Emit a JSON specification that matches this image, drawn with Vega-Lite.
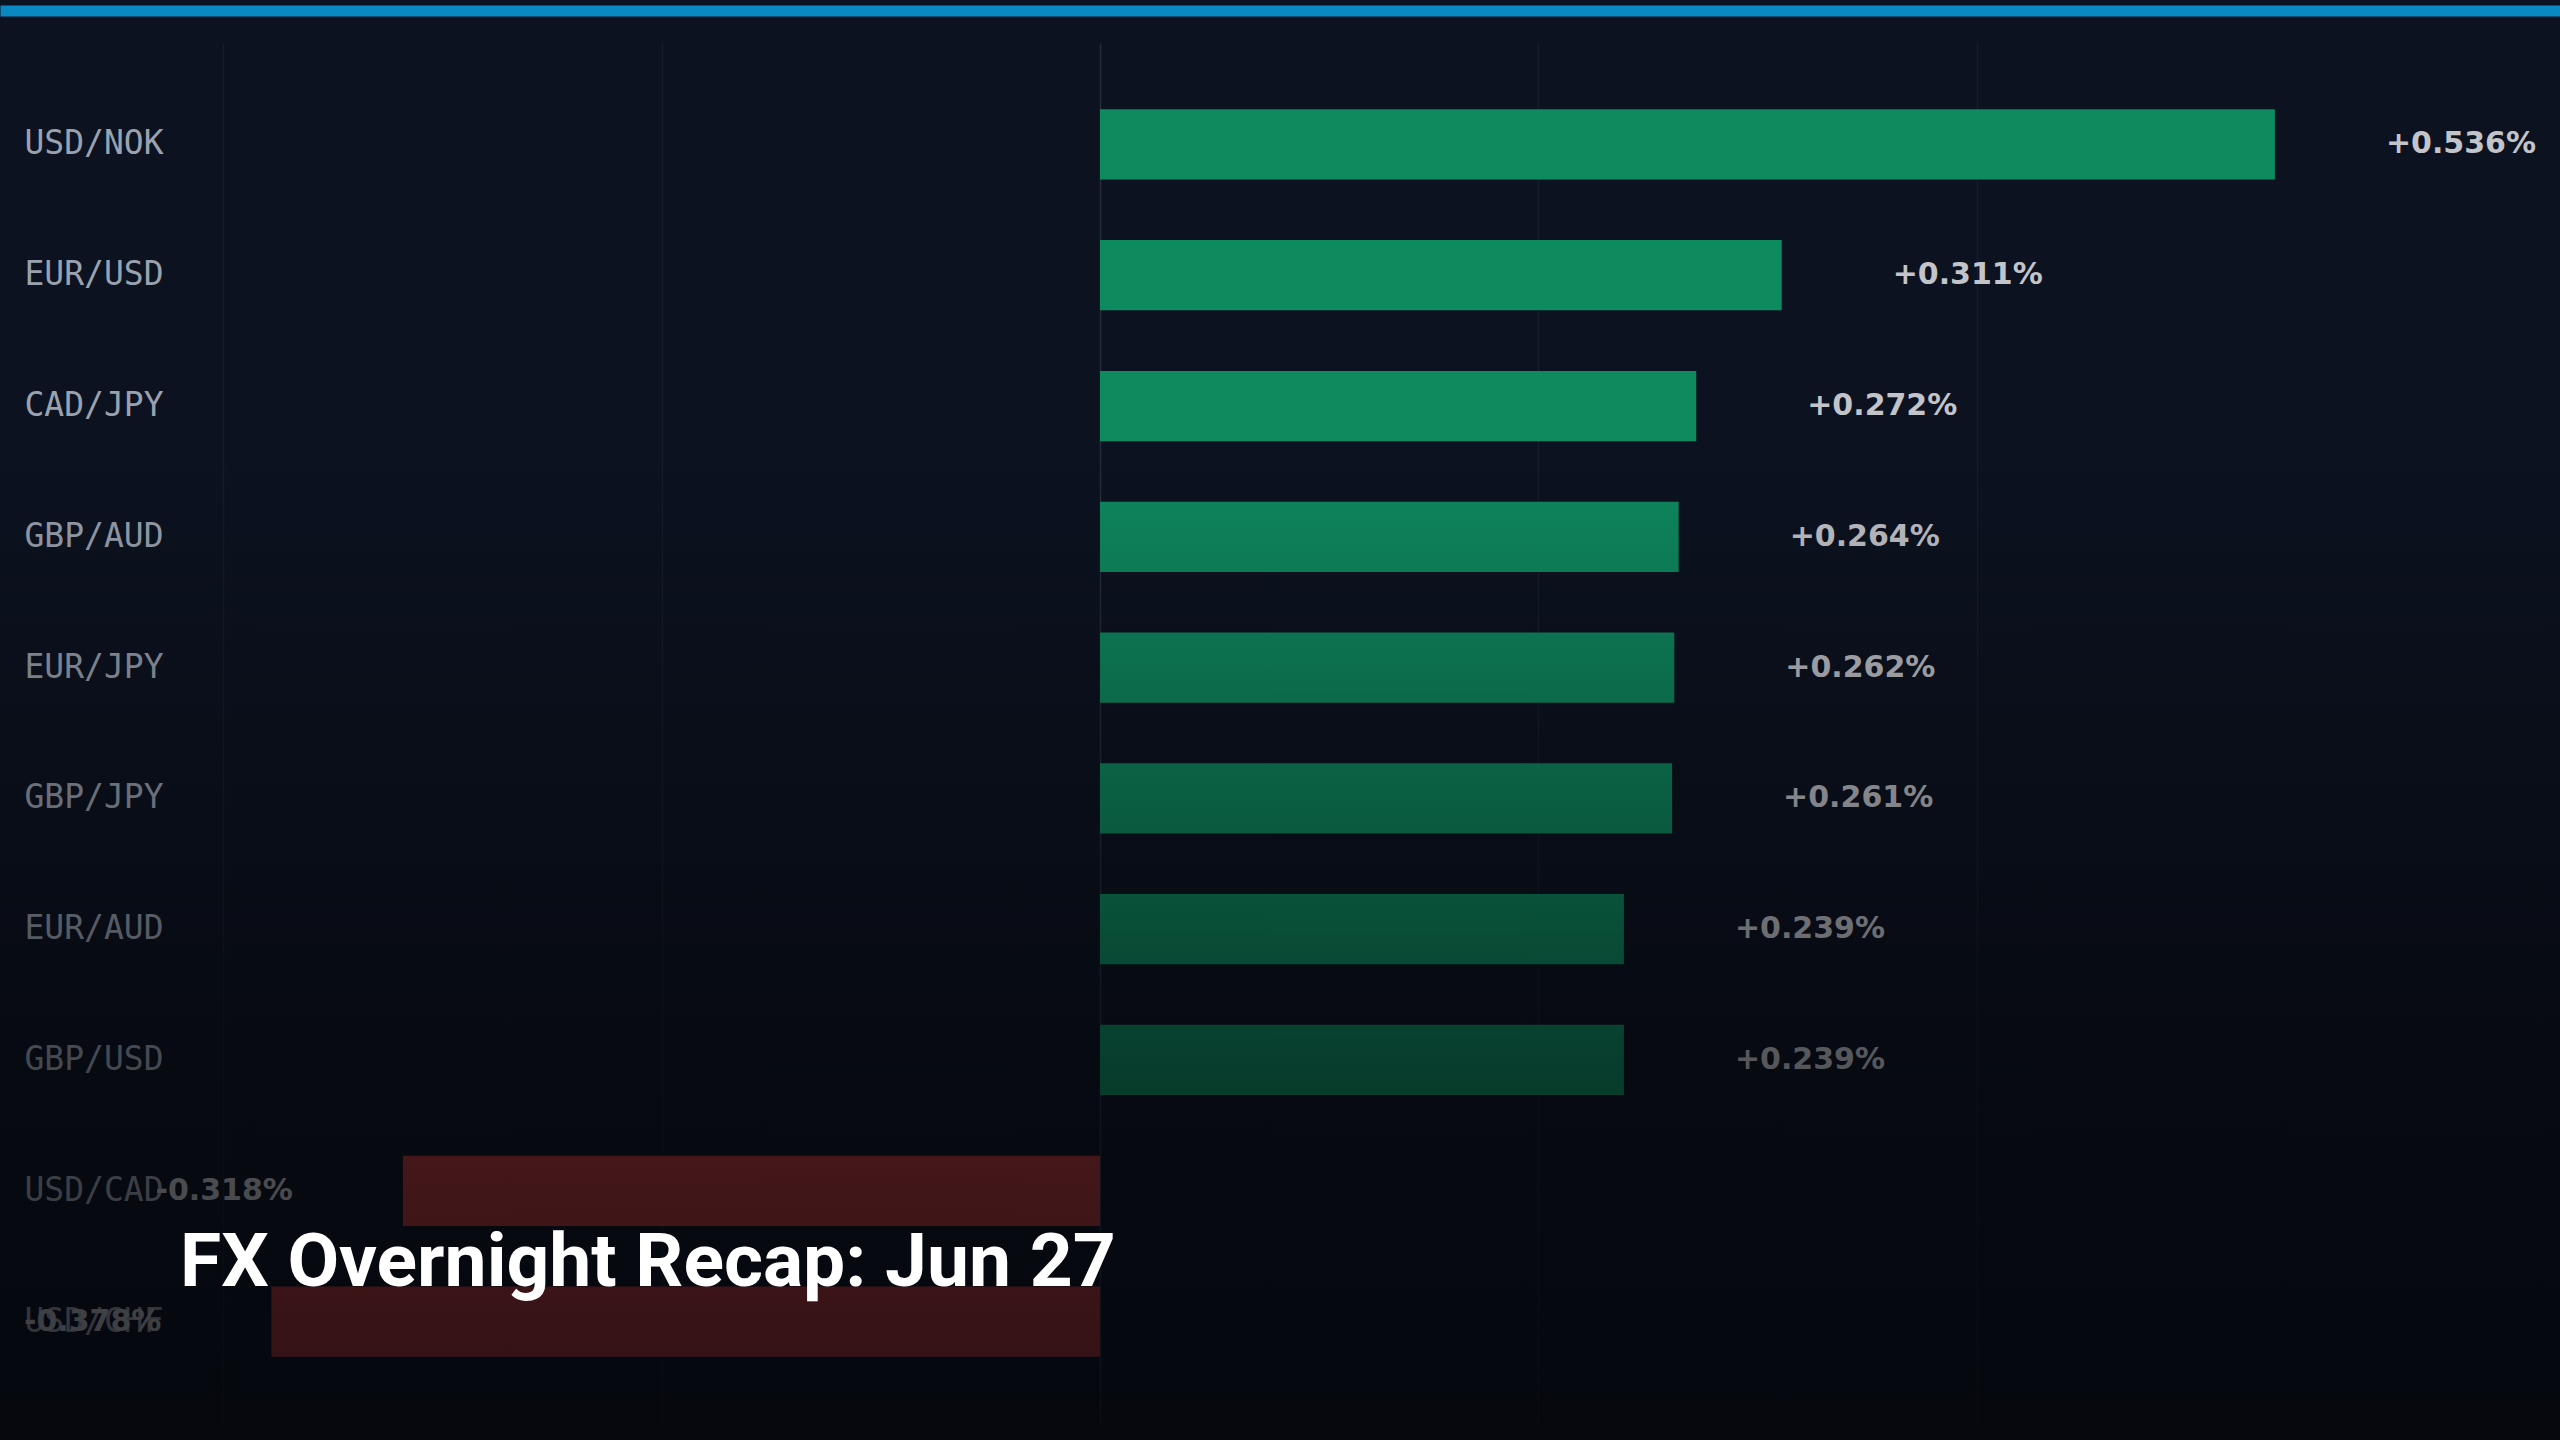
{
  "$schema": "https://vega.github.io/schema/vega-lite/v6.json",
  "width": 2560,
  "height": 1429.5,
  "padding": {"left": 0, "right": 0, "top": 10.5, "bottom": 0},
  "autosize": {"type": "none"},
  "background": "#0c1220",
  "config": {"view": {"stroke": null}},
  "title": {
    "text": "FX Overnight Recap: Jun 27",
    "orient": "top",
    "anchor": "start",
    "frame": "group",
    "offset": 0,
    "dx": 180,
    "dy": 1350,
    "baseline": "alphabetic",
    "font": "Roboto",
    "fontSize": 75,
    "fontWeight": 700,
    "color": "#ffffff"
  },
  "data": {
    "values": [
      {"pair": "USD/NOK", "change": 0.536, "label": "+0.536%"},
      {"pair": "EUR/USD", "change": 0.311, "label": "+0.311%"},
      {"pair": "CAD/JPY", "change": 0.272, "label": "+0.272%"},
      {"pair": "GBP/AUD", "change": 0.264, "label": "+0.264%"},
      {"pair": "EUR/JPY", "change": 0.262, "label": "+0.262%"},
      {"pair": "GBP/JPY", "change": 0.261, "label": "+0.261%"},
      {"pair": "EUR/AUD", "change": 0.239, "label": "+0.239%"},
      {"pair": "GBP/USD", "change": 0.239, "label": "+0.239%"},
      {"pair": "USD/CAD", "change": -0.318, "label": "-0.318%"},
      {"pair": "USD/CHF", "change": -0.378, "label": "-0.378%"}
    ]
  },
  "layer": [
    {
      "mark": {"type": "bar"},
      "encoding": {
        "y": {
          "field": "pair", "type": "nominal", "sort": null,
          "scale": {"range": [32.5, 1412.5], "paddingInner": 0.463, "paddingOuter": 0.507},
          "axis": {
            "orient": "left", "title": null, "ticks": false, "domain": false, "grid": false,
            "labelAlign": "left", "labelPadding": -24, "labelBaseline": "middle",
            "labelFont": "DejaVu Sans Mono", "labelFontSize": 33, "labelColor": "#9ba2af",
            "labelOverlap": false, "labelLimit": 400, "zindex": 0
          }
        },
        "x": {
          "field": "change", "type": "quantitative",
          "scale": {"domain": [-0.50182, 0.66606], "nice": false},
          "axis": {
            "orient": "top", "title": null, "labels": false, "ticks": false,
            "domain": true, "domainColor": "#0a88c2", "domainWidth": 11,
            "grid": true, "values": [-0.4, -0.2, 0, 0.2, 0.4],
            "gridColor": {"condition": {"test": "datum.value === 0", "value": "#242c3a"}, "value": "#151c2a"},
            "gridWidth": 1.5, "zindex": 0
          }
        },
        "color": {
          "condition": {"test": "datum.change < 0", "value": "#ad3538"},
          "value": "#0e8a5f"
        }
      }
    },
    {
      "transform": [{"filter": "datum.change >= 0"}],
      "mark": {"type": "text", "align": "left", "baseline": "middle", "dx": 111, "font": "DejaVu Sans", "fontWeight": "bold", "fontSize": 30, "color": "#c2c4ca"},
      "encoding": {
        "y": {"field": "pair", "type": "nominal", "sort": null},
        "x": {"field": "change", "type": "quantitative"},
        "text": {"field": "label"}
      }
    },
    {
      "transform": [{"filter": "datum.change < 0"}],
      "mark": {"type": "text", "align": "right", "baseline": "middle", "dx": -110, "font": "DejaVu Sans", "fontWeight": "bold", "fontSize": 30, "color": "#c2c4ca"},
      "encoding": {
        "y": {"field": "pair", "type": "nominal", "sort": null},
        "x": {"field": "change", "type": "quantitative"},
        "text": {"field": "label"}
      }
    },
    {
      "data": {"values": [{"shade": "fade"}]},
      "mark": {
        "type": "rect",
        "fill": {
          "gradient": "linear", "x1": 0, "y1": 0, "x2": 0, "y2": 1,
          "stops": [
            {"offset": 0, "color": "rgba(3,4,7,0)"},
            {"offset": 0.30, "color": "rgba(3,4,7,0)"},
            {"offset": 0.734, "color": "rgba(3,4,7,0.57)"},
            {"offset": 0.825, "color": "rgba(3,4,7,0.63)"},
            {"offset": 0.916, "color": "rgba(3,4,7,0.69)"},
            {"offset": 1, "color": "rgba(3,4,7,0.74)"}
          ]
        }
      },
      "encoding": {}
    }
  ]
}
